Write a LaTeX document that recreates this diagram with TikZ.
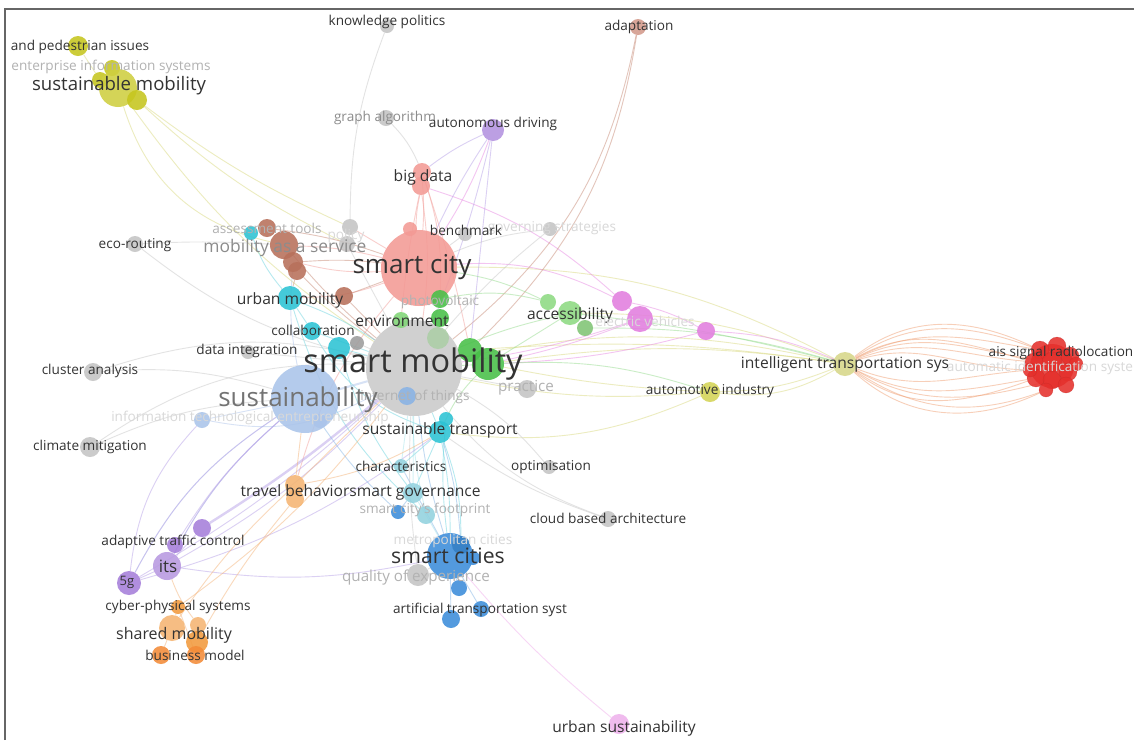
\documentclass[tikz,border=0pt]{standalone}
\usepackage{fontspec}
\setmainfont{Open Sans}
\pgfdeclarelayer{paper}
\pgfdeclarelayer{edges}
\pgfdeclarelayer{labels}
\pgfsetlayers{paper,edges,main,labels}

% node colours
\definecolor{cgray}{HTML}{C4C4C4}
\definecolor{csal}{HTML}{F39A95}
\definecolor{cadapt}{HTML}{D39A8C}
\definecolor{cbrown}{HTML}{B8705B}
\definecolor{ccyan}{HTML}{2CC3D4}
\definecolor{cteal}{HTML}{92D2DF}
\definecolor{clblue}{HTML}{AAC4EA}
\definecolor{cblue}{HTML}{3C8DDA}
\definecolor{corange}{HTML}{F29A3E}
\definecolor{clorange}{HTML}{F5B572}
\definecolor{cpurple}{HTML}{A67FDA}
\definecolor{cgreen}{HTML}{48C048}
\definecolor{clgreen}{HTML}{8EDA82}
\definecolor{cpink}{HTML}{E27EDF}
\definecolor{colive}{HTML}{C6C61E}
\definecolor{clolive}{HTML}{D7D789}
\definecolor{cred}{HTML}{E5302C}
% edge colours
\definecolor{eyel}{HTML}{DADA80}
\definecolor{elens}{HTML}{F0A074}
\definecolor{epink}{HTML}{E98CE4}
\definecolor{esal}{HTML}{F3A09C}
\definecolor{egray}{HTML}{C8C8C8}
\definecolor{ebrown}{HTML}{C88C78}
\definecolor{ecyan}{HTML}{6FD5E0}
\definecolor{elblue}{HTML}{B0C6EC}
\definecolor{epurple}{HTML}{B8A2E8}
\definecolor{eorange}{HTML}{F5B47A}
\definecolor{eblue}{HTML}{86B6E6}
\definecolor{egreen}{HTML}{96DC8E}
% text colours
\definecolor{tdark}{HTML}{333333}
\definecolor{tmid}{HTML}{8C8C8C}
\definecolor{tlight}{HTML}{B2B2B2}
\definecolor{tfaint}{HTML}{D8D8D8}

\tikzset{
  dot/.style={circle, inner sep=0pt, draw=none, minimum size=#1, fill opacity=0.88},
  ed/.style={draw=#1, line width=0.9pt, draw opacity=0.5},
  lab/.style={inner sep=0pt, text=tdark, font=\fontsize{13.6}{14}\selectfont},
  labm/.style={lab, font=\fontsize{15.6}{16}\selectfont},
  mid/.style={text=tmid},
  light/.style={text=tlight},
  faint/.style={text=tfaint}
}

\begin{document}
\begin{tikzpicture}[x=1pt, y=-1pt]
\useasboundingbox (0,0) rectangle (1134,740);
\begin{pgfonlayer}{paper}
\fill[white] (0,0) rectangle (1134,740);
\draw[black!60, line width=1.4pt] (5,740) -- (5,9) -- (1134,9);
\end{pgfonlayer}

% ---------- circles ----------
% gray terms
\node[dot=14pt, fill=cgray] (kp) at (387,26) {};
\node[dot=16pt, fill=cgray] (ga) at (386,118) {};
\node[dot=14pt, fill=cgray] (bm) at (465,234) {};
\node[dot=14pt, fill=cgray] (gs) at (550,229) {};
\node[dot=16pt, fill=cgray] (po1) at (350,227) {};
\node[dot=16pt, fill=cgray] (po2) at (347,244) {};
\node[dot=16pt, fill=cgray] (er) at (135,244) {};
\node[dot=14pt, fill=cgray] (di) at (248,352) {};
\node[dot=18pt, fill=cgray] (ca) at (93,372) {};
\node[dot=20pt, fill=cgray] (cm) at (90,447) {};
\node[dot=14pt, fill=cgray] (op) at (549,467) {};
\node[dot=16pt, fill=cgray] (cb) at (608,519) {};
\node[dot=18pt, fill=cgray] (pr) at (527,389) {};
\node[dot=22pt, fill=cgray] (qe) at (418,575) {};

% smart city cluster
\node[dot=76pt, fill=csal] (sc) at (419,268) {};
\node[dot=18pt, fill=csal] (bd1) at (422,172) {};
\node[dot=18pt, fill=csal] (bd2) at (421,186) {};
\node[dot=14pt, fill=csal] (sc2) at (410,229) {};
\node[dot=16pt, fill=cadapt] (ad) at (638,27) {};

% smart mobility
\node[dot=96pt, fill=cgray!90!white] (smob) at (414,368) {};
\node[dot=14pt, fill=cgray!80!black] (g1) at (357,343) {};
\node[dot=22pt, fill=clgreen!45!cgray] (gg) at (438,338) {};

% mobility as a service
\node[dot=28pt, fill=cbrown] (ms1) at (284,245) {};
\node[dot=20pt, fill=cbrown] (ms2) at (293,262) {};
\node[dot=18pt, fill=cbrown] (ms3) at (297,271) {};
\node[dot=18pt, fill=cbrown] (at) at (267,228) {};
\node[dot=18pt, fill=cbrown] (ms4) at (344,296) {};
\node[dot=14pt, fill=ccyan] (at2) at (251,233) {};

% urban mobility / sustainable transport
\node[dot=24pt, fill=ccyan] (um) at (290,298) {};
\node[dot=18pt, fill=ccyan] (co) at (312,331) {};
\node[dot=22pt, fill=ccyan] (cy3) at (339,348) {};
\node[dot=22pt, fill=ccyan] (st) at (440,432) {};
\node[dot=14pt, fill=ccyan] (st2) at (446,419) {};
\node[dot=14pt, fill=cteal] (ch) at (401,466) {};
\node[dot=20pt, fill=cteal] (sg) at (413,493) {};
\node[dot=18pt, fill=cteal] (sf) at (426,515) {};

% sustainability
\node[dot=68pt, fill=clblue] (su) at (305,399) {};
\node[dot=16pt, fill=clblue] (lb2) at (202,420) {};
\node[dot=14pt, fill=clblue] (lb3) at (320,421) {};
\node[dot=18pt, fill=clblue!70!cblue] (iot) at (407,396) {};

% smart cities
\node[dot=46pt, fill=cblue] (scs) at (450,556) {};
\node[dot=14pt, fill=cblue] (b2) at (398,512) {};
\node[dot=18pt, fill=cblue!90!black] (b3) at (461,545) {};
\node[dot=14pt, fill=cblue] (b4) at (473,558) {};
\node[dot=16pt, fill=cblue] (b5) at (459,588) {};
\node[dot=16pt, fill=cblue] (b6) at (481,609) {};
\node[dot=18pt, fill=cblue] (b7) at (451,619) {};

% shared mobility / travel behaviour
\node[dot=20pt, fill=clorange] (tb) at (295,485) {};
\node[dot=18pt, fill=clorange] (tb2) at (295,499) {};
\node[dot=14pt, fill=corange] (cp) at (178,607) {};
\node[dot=26pt, fill=clorange] (sm1) at (172,628) {};
\node[dot=16pt, fill=clorange] (sm2) at (198,625) {};
\node[dot=22pt, fill=corange] (sm3) at (197,642) {};
\node[dot=18pt, fill=corange!90!red] (bz1) at (161,655) {};
\node[dot=18pt, fill=corange!90!red] (bz2) at (196,655) {};

% its / 5g / autonomous driving
\node[dot=22pt, fill=cpurple!85!white] (adr) at (493,130) {};
\node[dot=16pt, fill=cpurple] (atc) at (175,545) {};
\node[dot=18pt, fill=cpurple] (p2) at (202,528) {};
\node[dot=28pt, fill=cpurple!80!white] (its) at (167,566) {};
\node[dot=24pt, fill=cpurple] (g5) at (129,583) {};

% accessibility / environment
\node[dot=16pt, fill=clgreen] (ac1) at (548,302) {};
\node[dot=24pt, fill=clgreen] (ac2) at (570,313) {};
\node[dot=16pt, fill=clgreen!90!black] (ac3) at (585,328) {};
\node[dot=16pt, fill=clgreen!80!cgreen] (en) at (401,320) {};
\node[dot=18pt, fill=cgreen] (pv1) at (440,299) {};
\node[dot=18pt, fill=cgreen] (pv2) at (440,318) {};
\node[dot=24pt, fill=cgreen] (gr1) at (470,350) {};
\node[dot=32pt, fill=cgreen] (gr2) at (488,364) {};

% electric vehicles
\node[dot=20pt, fill=cpink] (pk1) at (622,301) {};
\node[dot=26pt, fill=cpink] (pk2) at (640,319) {};
\node[dot=18pt, fill=cpink] (pk3) at (706,331) {};
\node[dot=20pt, fill=cpink!60!white] (us) at (619,724) {};

% sustainable mobility cluster and its
\node[dot=20pt, fill=colive] (pe) at (78,46) {};
\node[dot=16pt, fill=colive] (eo) at (112,68) {};
\node[dot=16pt, fill=colive] (smo1) at (100,80) {};
\node[dot=38pt, fill=colive!85!white] (smo) at (118,88) {};
\node[dot=20pt, fill=colive] (smo2) at (137,100) {};
\node[dot=24pt, fill=clolive] (its2) at (845,364) {};
\node[dot=20pt, fill=colive!75!white] (aut) at (710,392) {};

% ais signal radiolocation cluster
\node[dot=44pt, fill=cred] (ais) at (1052,366) {};
\foreach \n/\px/\py/\d in {r1/1040/350/18, r2/1057/346/18, r3/1070/356/18,
    r4/1034/362/18, r5/1052/362/20, r6/1068/372/18, r7/1036/378/18,
    r8/1052/380/18, r9/1066/385/16, r10/1046/390/14, r11/1076/364/14,
    r12/1030/370/14}
  \node[dot=\d pt, fill=cred, draw=cred!75!black, draw opacity=0.3, line width=0.4pt] (\n) at (\px,\py) {};

% ---------- connectors ----------
\begin{pgfonlayer}{edges}
% intelligent transportation systems to ais: upper and lower bundles
\foreach \t/\o/\i in {r4/22/175, r1/28/170, r12/18/178, r1/34/160, r4/30/165, r5/26/172, r1/38/155}
  \draw[ed=elens] (its2) to[out=\o, in=\i] (\t);
\foreach \t/\o/\i in {r7/-28/190, r10/-34/200, r12/-22/185, r7/-38/200, r10/-42/205, r8/-30/195}
  \draw[ed=elens] (its2) to[out=\o, in=\i] (\t);
% olive links
\draw[ed=eyel] (smo2) to[bend right=6] (po1);
\draw[ed=eyel] (smo2) to[bend right=8] (po2);
\draw[ed=eyel] (smo) to[bend right=10] (smob);
\draw[ed=eyel] (smo) to[bend right=30] (ms1);
\draw[ed=eyel] (smo1) -- (pe);
\draw[ed=eyel] (eo) -- (smo);
\draw[ed=eyel] (its2) to[bend right=10] (ac2);
\draw[ed=eyel] (its2) to[bend right=12] (smob);
\draw[ed=eyel] (its2) to[bend right=8] (gr2);
\draw[ed=eyel] (its2) to[bend right=14] (sc);
\draw[ed=eyel] (its2) to[bend right=6] (gr1);
\draw[ed=eyel] (its2) to[bend left=18] (aut);
\draw[ed=eyel] (its2) to[bend left=10] (aut);
\draw[ed=eyel] (aut) to[bend left=15] (st);
\draw[ed=eyel] (aut) to[bend left=8] (smob);
\draw[ed=eyel] (aut) to[bend left=4] (gr2);
% pink links
\draw[ed=epink] (pk1) to[bend right=15] (sc);
\draw[ed=epink] (pk1) to[bend right=12] (bd2);
\draw[ed=epink] (pk2) to[bend left=5] (smob);
\draw[ed=epink] (pk2) -- (pk1);
\draw[ed=epink] (pk3) to[bend right=8] (pk1);
\draw[ed=epink] (pk3) to[bend left=10] (its2);
\draw[ed=epink] (pk2) to[bend left=4] (gr2);
\draw[ed=epink] (pk3) to[bend left=6] (gr2);
\draw[ed=epink!70!white] (us) to[bend left=5] (scs);
\draw[ed=epink] (adr) to[bend left=6] (sc);
% smart city links
\draw[ed=esal] (bd1) to[bend left=4] (sc);
\draw[ed=esal] (bd2) to[bend right=6] (sc);
\draw[ed=esal] (bd2) to[bend left=8] (smob);
\draw[ed=esal] (bd1) to[bend left=3] (gr1);
\draw[ed=esal] (bd2) to[bend right=3] (en);
\draw[ed=esal] (bd1) to[bend left=10] (pv1);
\draw[ed=esal] (sc2) -- (sc);
\draw[ed=esal] (sc) to[bend right=6] (ms1);
\draw[ed=esal] (sc) to[bend left=8] (ms2);
\draw[ed=esal] (sc) -- (po1);
\draw[ed=esal] (sc) to[bend left=10] (um);
\draw[ed=esal] (sc) to[bend right=12] (tb);
\draw[ed=ebrown] (ad) to[bend left=20] (smob);
\draw[ed=ebrown] (ad) to[bend left=18] (gr1);
% gray links
\draw[ed=egray] (kp) to[bend right=10] (po1);
\draw[ed=egray] (ga) to[bend left=10] (bd1);
\draw[ed=egray] (er) to[bend right=12] (smob);
\draw[ed=egray] (er) to[bend left=3] (ms1);
\draw[ed=egray] (ca) to[bend left=10] (su);
\draw[ed=egray] (ca) to[bend left=15] (smob);
\draw[ed=egray] (cm) to[bend left=10] (su);
\draw[ed=egray] (cm) to[bend left=18] (smob);
\draw[ed=egray] (di) -- (smob);
\draw[ed=egray] (op) to[bend right=10] (smob);
\draw[ed=egray] (cb) to[bend left=15] (smob);
\draw[ed=egray] (cb) to[bend left=8] (st);
\draw[ed=egray] (gs) to[bend right=5] (smob);
\draw[ed=egray] (gs) to[bend right=8] (sc);
\draw[ed=egray] (bm) -- (sc);
\draw[ed=egray] (pr) -- (smob);
\draw[ed=egray] (qe) to[bend left=5] (smob);
\draw[ed=egray] (qe) -- (scs);
\draw[ed=egray] (po2) -- (smob);
\draw[ed=egray] (g1) -- (smob);
% brown links
\draw[ed=ebrown] (ms1) to[bend right=5] (smob);
\draw[ed=ebrown] (ms2) to[bend left=5] (sc);
\draw[ed=ebrown] (ms3) to[bend right=4] (smob);
\draw[ed=ebrown] (at) to[bend left=6] (sc);
\draw[ed=ebrown] (ms4) -- (sc);
\draw[ed=ebrown] (ms4) -- (smob);
\draw[ed=ebrown] (ms3) -- (um);
% cyan links
\draw[ed=ecyan] (um) -- (co);
\draw[ed=ecyan] (co) -- (smob);
\draw[ed=ecyan] (um) to[bend left=6] (smob);
\draw[ed=ecyan] (cy3) -- (smob);
\draw[ed=ecyan] (at2) to[bend right=10] (um);
\draw[ed=ecyan] (st) to[bend left=5] (scs);
\draw[ed=ecyan] (st) to[bend left=10] (b3);
\draw[ed=ecyan] (st2) to[bend right=6] (scs);
\draw[ed=ecyan] (st) -- (smob);
\draw[ed=ecyan] (st) -- (sg);
\draw[ed=ecyan] (st) -- (ch);
\draw[ed=ecyan] (co) to[bend right=20] (st);
\draw[ed=ecyan] (um) to[bend right=15] (sf);
\draw[ed=ecyan] (cy3) to[bend right=10] (sg);
% teal links
\draw[ed=ecyan!60!white] (ch) -- (smob);
\draw[ed=ecyan!60!white] (sg) -- (smob);
\draw[ed=ecyan!60!white] (sg) -- (scs);
\draw[ed=ecyan!60!white] (sf) to[bend left=6] (smob);
% sustainability links
\draw[ed=elblue, line width=2pt] (su) -- (smob);
\draw[ed=elblue] (lb2) -- (su);
\draw[ed=elblue] (su) to[bend right=10] (its);
\draw[ed=elblue] (su) to[bend right=14] (g5);
\draw[ed=elblue] (su) -- (lb3);
\draw[ed=elblue] (su) to[bend left=8] (ms2);
\draw[ed=elblue] (lb2) to[bend right=20] (smob);
% purple links
\draw[ed=epurple] (its) to[bend left=10] (su);
\draw[ed=epurple] (its) to[bend right=8] (smob);
\draw[ed=epurple] (g5) to[bend left=14] (su);
\draw[ed=epurple] (g5) to[bend left=18] (lb2);
\draw[ed=epurple] (g5) to[bend right=6] (smob);
\draw[ed=epurple] (atc) to[bend left=8] (su);
\draw[ed=epurple, line width=2.4pt] (p2) to[bend right=4] (smob);
\draw[ed=epurple] (p2) -- (its);
\draw[ed=epurple] (g5) -- (its);
\draw[ed=epurple] (g5) to[bend right=10] (st);
\draw[ed=epurple] (its) to[bend right=10] (scs);
\draw[ed=epurple] (adr) to[bend right=6] (bd1);
\draw[ed=epurple] (adr) to[bend left=4] (smob);
\draw[ed=epurple] (adr) to[bend right=4] (sc);
\draw[ed=epurple] (adr) -- (gr1);
% orange links
\draw[ed=eorange] (sm1) to[bend left=6] (tb);
\draw[ed=eorange] (cp) to[bend right=8] (smob);
\draw[ed=eorange] (tb) -- (smob);
\draw[ed=eorange] (tb) -- (su);
\draw[ed=eorange] (tb) to[bend right=10] (st);
\draw[ed=eorange] (sm1) -- (cp);
\draw[ed=eorange] (bz2) -- (cp);
\draw[ed=eorange] (sm2) to[bend left=8] (its);
\draw[ed=eorange] (sm3) to[bend left=5] (tb2);
\draw[ed=eorange] (sm1) -- (bz1);
% blue links
\draw[ed=eblue] (scs) to[bend left=5] (smob);
\draw[ed=eblue] (scs) -- (ch);
\draw[ed=eblue] (b2) -- (sg);
\draw[ed=eblue] (b2) to[bend left=6] (su);
\draw[ed=eblue] (b6) -- (scs);
\draw[ed=eblue] (b7) -- (scs);
\draw[ed=eblue] (b5) -- (scs);
\draw[ed=eblue] (b3) to[bend right=6] (st);
% green links
\draw[ed=egreen] (ac2) to[bend right=5] (smob);
\draw[ed=egreen] (ac1) to[bend right=8] (sc);
\draw[ed=egreen] (ac2) -- (gr2);
\draw[ed=egreen] (gr2) -- (smob);
\draw[ed=egreen] (gr1) -- (smob);
\draw[ed=egreen] (pv1) -- (sc);
\draw[ed=egreen] (en) -- (smob);
\draw[ed=egreen] (ac3) to[bend left=8] (its2);
\draw[ed=egreen] (ac2) to[bend left=4] (its2);
\draw[ed=egreen] (gr2) to[bend right=10] (st);
\draw[ed=egreen] (gr2) to[bend left=10] (aut);
\draw[ed=egreen] (ac1) to[bend right=12] (pv1);
\end{pgfonlayer}

% ---------- labels ----------
\begin{pgfonlayer}{labels}
\node[lab] (lkp) at (387,22) {knowledge politics};
\node[lab] (lad) at (639,27) {adaptation};
\node[lab] (lpe) at (80,47) {and pedestrian issues};
\node[lab, light] (leo) at (111,67) {enterprise information systems};
\node[lab, font=\fontsize{18.6}{19}\selectfont] (lsmo) at (119,86) {sustainable mobility};
\node[lab, mid] (lga) at (385,118) {graph algorithm};
\node[lab] (ladr) at (493,124) {autonomous driving};
\node[labm] (lbd) at (423,177) {big data};
\node[lab, faint] (lgs) at (552,228) {governing strategies};
\node[lab, light] (lat) at (267,228) {assessment tools};
\node[lab] (lbm) at (466,230) {benchmark};
\node[lab, faint] (lpo) at (346,236) {policy};
\node[lab] (ler) at (135,245) {eco-routing};
\node[lab, mid, font=\fontsize{17.4}{18}\selectfont] (lms) at (285,248) {mobility as a service};
\node[lab, font=\fontsize{26}{27}\selectfont] (lsc) at (412,267) {smart city};
\node[labm] (lum) at (290,300) {urban mobility};
\node[lab, light] (lpv) at (440,302) {photovoltaic};
\node[labm] (lac) at (570,315) {accessibility};
\node[labm] (len) at (402,321) {environment};
\node[lab, faint] (lev) at (645,321) {electric vehicles};
\node[lab] (lco) at (313,330) {collaboration};
\node[lab] (ldi) at (247,351) {data integration};
\node[lab, faint] (laut2) at (1040,368) {automatic identification syste};
\node[lab] (lais) at (1061,353) {ais signal radiolocation};
\node[lab, font=\fontsize{32.5}{33}\selectfont] (lsmob) at (413,364) {smart mobility};
\node[labm] (lits2) at (845,364) {intelligent transportation sys};
\node[lab] (lca) at (90,371) {cluster analysis};
\node[lab, light, font=\fontsize{15.2}{16}\selectfont] (lpr) at (526,388) {practice};
\node[lab] (laut) at (710,391) {automotive industry};
\node[lab, light] (liot) at (415,397) {internet of things};
\node[lab, faint] (lite) at (250,418) {information technological entrepreneurship};
\node[lab, text=black!55, font=\fontsize{26}{27}\selectfont] (lsu) at (298,400) {sustainability};
\node[labm] (lst) at (440,430) {sustainable transport};
\node[lab] (lcm) at (90,447) {climate mitigation};
\node[lab] (lch) at (401,466) {characteristics};
\node[lab] (lop) at (551,467) {optimisation};
\node[labm] (ltb) at (295,491) {travel behavior};
\node[labm] (lsg) at (415,493) {smart governance};
\node[lab, light] (lsf) at (425,510) {smart city's footprint};
\node[lab] (lcb) at (608,518) {cloud based architecture};
\node[lab, faint] (lmc) at (453,541) {metropolitan cities};
\node[lab] (latc) at (173,542) {adaptive traffic control};
\node[lab, font=\fontsize{21.2}{22}\selectfont] (lscs) at (448,556) {smart cities};
\node[lab, font=\fontsize{17}{18}\selectfont] (lits) at (168,566) {its};
\node[lab, light, font=\fontsize{15.2}{16}\selectfont] (lqe) at (416,577) {quality of experience};
\node[lab, font=\fontsize{13}{14}\selectfont] (lg5) at (127,582) {5g};
\node[lab] (lcp) at (178,607) {cyber-physical systems};
\node[lab] (lats) at (480,610) {artificial transportation syst};
\node[lab, font=\fontsize{16}{17}\selectfont] (lsm) at (174,635) {shared mobility};
\node[lab] (lbz) at (195,655) {business model};
\node[labm] (lus) at (624,728) {urban sustainability};
\end{pgfonlayer}
\end{tikzpicture}
\end{document}
